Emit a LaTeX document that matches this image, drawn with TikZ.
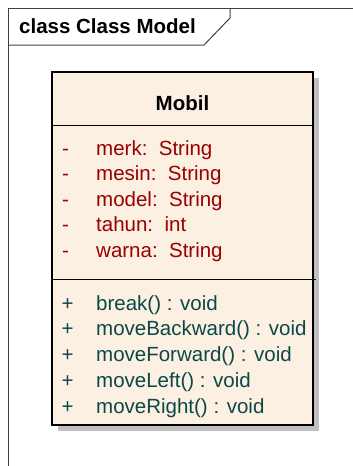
\documentclass[tikz,border=0pt]{standalone}
\usepackage{fontspec}
\setmainfont{Liberation Sans}
\definecolor{classfill}{HTML}{FBF0E2}
\definecolor{attrcol}{HTML}{990000}
\definecolor{opcol}{HTML}{0C4848}
\definecolor{shadowgray}{HTML}{C0C0C0}
\definecolor{framecol}{HTML}{404040}
\tikzset{
  umltext/.style={font=\fontsize{20.5}{24}\selectfont, inner sep=0pt, anchor=base west},
  boldtext/.style={umltext, font=\fontsize{20.5}{24}\selectfont\bfseries},
  attr/.style={umltext, text=attrcol},
  op/.style={umltext, text=opcol},
  attrvis/.style={attr, anchor=base},
  opvis/.style={op, anchor=base},
  frameline/.style={draw=framecol, line width=1pt},
}
\begin{document}
\begin{tikzpicture}[x=1pt,y=-1pt]
\useasboundingbox (0,0) rectangle (353,466);

% diagram frame with its name tab
\draw[frameline] (8,466) -- (8,8) -- (353,8);
\draw[frameline] (8,45) -- (204,45) -- (230,18) -- (230,8);
\node[boldtext] (title) at (19,33.5) {class Class Model};

% class box: shadow, body and compartments
\fill[shadowgray] (58,78) rectangle (319,431);
\draw[fill=classfill, line width=1.5pt] (52,72) rectangle (313,425);
\draw[line width=1pt] (52,125) -- (313,125);
\draw[line width=1pt] (52,279) -- (316,279);

\node[boldtext, anchor=base] (classname) at (182.5,110) {Mobil};

% attributes
\foreach \y/\txt [count=\i] in {155/{merk:\ \ String}, 180.5/{mesin:\ \ String}, 206/{model:\ \ String}, 231.5/{tahun:\ \ int}, 257/{warna:\ \ String}} {
  \node[attrvis] (avis\i) at (65.5,\y) {-};
  \node[attr] (attr\i) at (96,\y) {\txt};
}

% operations
\foreach \y/\txt [count=\i] in {310/{break() : void}, 335.75/{moveBackward() : void}, 361.5/{moveForward() : void}, 387.25/{moveLeft() : void}, 413/{moveRight() : void}} {
  \node[opvis] (ovis\i) at (67.5,\y) {+};
  \node[op] (op\i) at (96,\y) {\txt};
}
\end{tikzpicture}
\end{document}
